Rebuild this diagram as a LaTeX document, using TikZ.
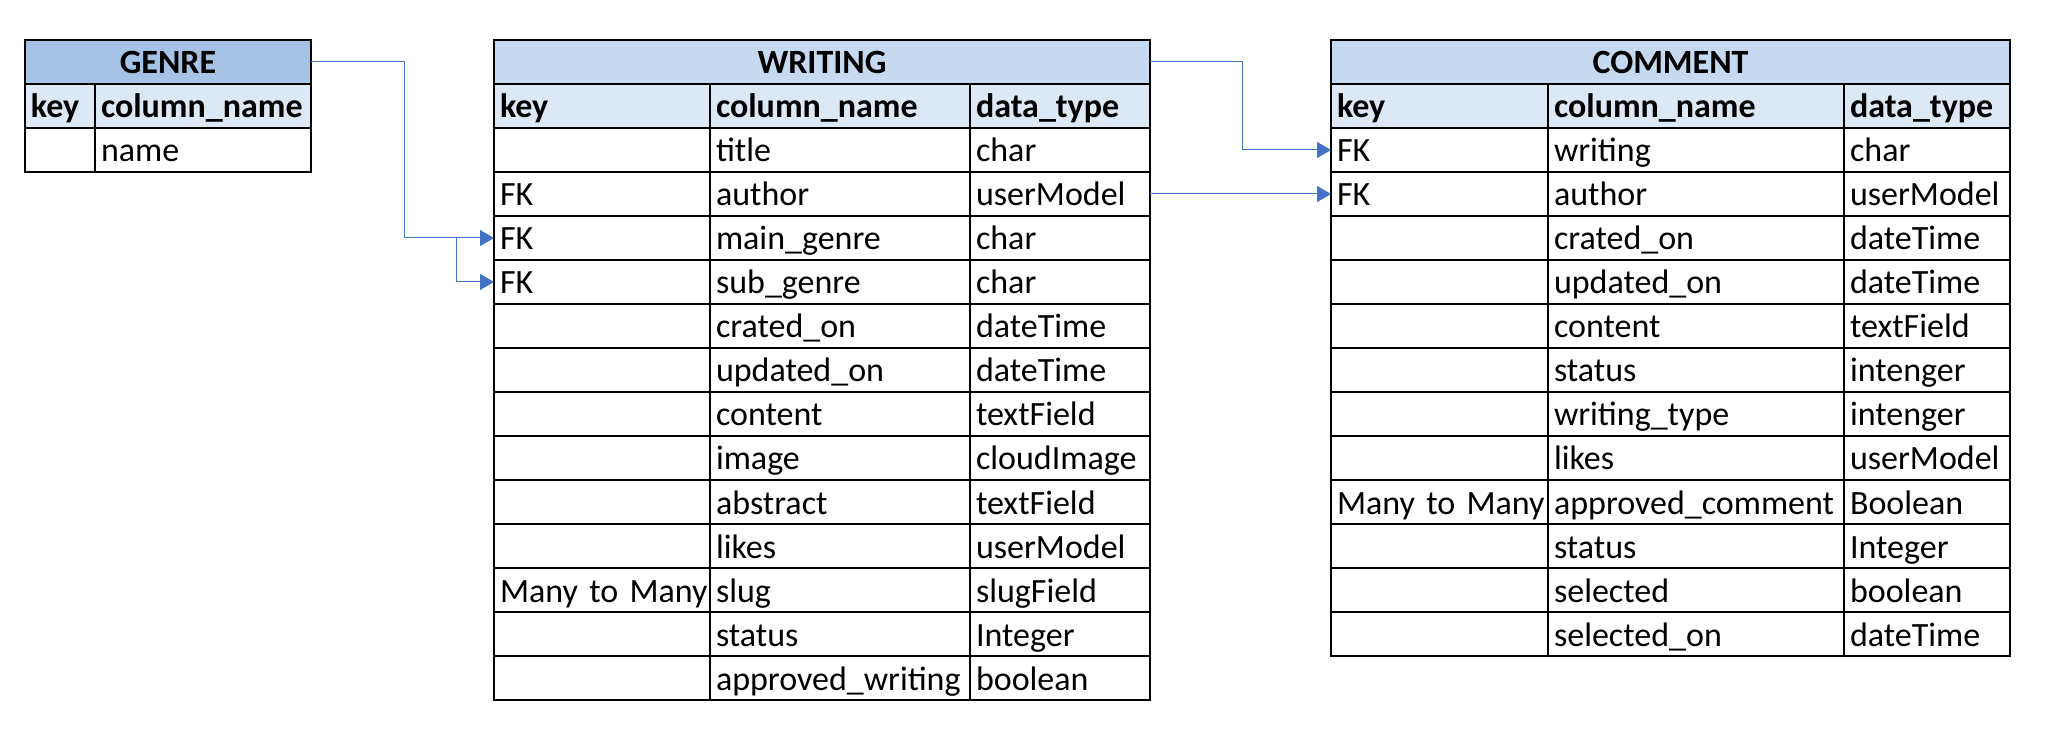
\documentclass[tikz,border=0pt]{standalone}
\usepackage{fontspec}
\setmainfont{Carlito}
\usetikzlibrary{arrows.meta,positioning,calc}

\definecolor{hdrdark}{HTML}{A6C3E5}
\definecolor{hdrlight}{HTML}{C5D9F0}
\definecolor{keyrow}{HTML}{DDE8F5}
\definecolor{linkblue}{HTML}{4472C4}

\tikzset{
  cell/.style={draw, line width=1pt, anchor=north west, outer sep=0pt,
    minimum height=22pt, inner xsep=3pt, inner ysep=0pt,
    text height=14pt, text depth=2pt, align=left,
    font=\fontsize{17}{20}\selectfont},
  keycell/.style={cell, fill=keyrow, font=\fontsize{17}{20}\selectfont\bfseries},
  head/.style={cell, align=center, font=\fontsize{17}{20}\selectfont\bfseries},
  colw/.style={text width={#1-6pt}},
  link/.style={draw=linkblue, line width=0.5pt, -{Triangle[length=7pt,width=8pt]}}
}

\begin{document}
\begin{tikzpicture}[x=0.5pt, y=-0.5pt]
\useasboundingbox (0,0) rectangle (2064,742);

% GENRE
\node[head, fill=hdrdark, colw=143pt] (g-head) at (25,40) {GENRE};
\node[keycell, colw=35pt] (g-key-1) at (25,84) {key};
\node[keycell, colw=108pt] (g-col-1) at (g-key-1.north east) {column\_name};
\node[cell, colw=35pt] (g-key-2) at (25,128) {};
\node[cell, colw=108pt] (g-col-2) at (g-key-2.north east) {name};

% WRITING
\node[head, fill=hdrlight, colw=328pt] (w-head) at (494,40) {WRITING};
\node[keycell, colw=108pt] (w-key-1) at (494,84) {key};
\node[keycell, colw=130pt] (w-col-1) at (w-key-1.north east) {column\_name};
\node[keycell, colw=90pt] (w-type-1) at (w-col-1.north east) {data\_type};
\foreach \k/\c/\t [count=\i from 2] in {/title/char, FK/author/userModel,
    FK/main\_genre/char, FK/sub\_genre/char, /crated\_on/dateTime,
    /updated\_on/dateTime, /content/textField, /image/cloudImage,
    /abstract/textField, /likes/userModel, Many to Many/slug/slugField,
    /status/Integer, /approved\_writing/boolean}{
  \node[cell, colw=108pt] (w-key-\i) at (494,{40+44*\i}) {\mbox{\k}};
  \node[cell, colw=130pt] (w-col-\i) at (w-key-\i.north east) {\c};
  \node[cell, colw=90pt] (w-type-\i) at (w-col-\i.north east) {\t};
}

% COMMENT
\node[head, fill=hdrlight, colw=339.5pt] (c-head) at (1331,40) {COMMENT};
\node[keycell, colw=108.5pt] (c-key-1) at (1331,84) {key};
\node[keycell, colw=148pt] (c-col-1) at (c-key-1.north east) {column\_name};
\node[keycell, colw=83pt] (c-type-1) at (c-col-1.north east) {data\_type};
\foreach \k/\c/\t [count=\i from 2] in {FK/writing/char, FK/author/userModel,
    /crated\_on/dateTime, /updated\_on/dateTime, /content/textField,
    /status/intenger, /writing\_type/intenger, /likes/userModel,
    Many to Many/approved\_comment/Boolean, /status/Integer,
    /selected/boolean, /selected\_on/dateTime}{
  \node[cell, colw=108.5pt] (c-key-\i) at (1331,{40+44*\i}) {\mbox{\k}};
  \node[cell, colw=148pt] (c-col-\i) at (c-key-\i.north east) {\c};
  \node[cell, colw=83pt] (c-type-\i) at (c-col-\i.north east) {\t};
}

% links
\coordinate (fork) at ($(w-key-4.west)+(-38,0)$);
\draw[link] (g-head.east) -- ++(93,0) |- (w-key-4.west);
\draw[link] (fork) |- (w-key-5.west);
\draw[link] (w-head.east) -- ++(92,0) |- (c-key-2.west);
\draw[link] (w-type-3.east) -- (c-key-3.west);
\end{tikzpicture}
\end{document}
